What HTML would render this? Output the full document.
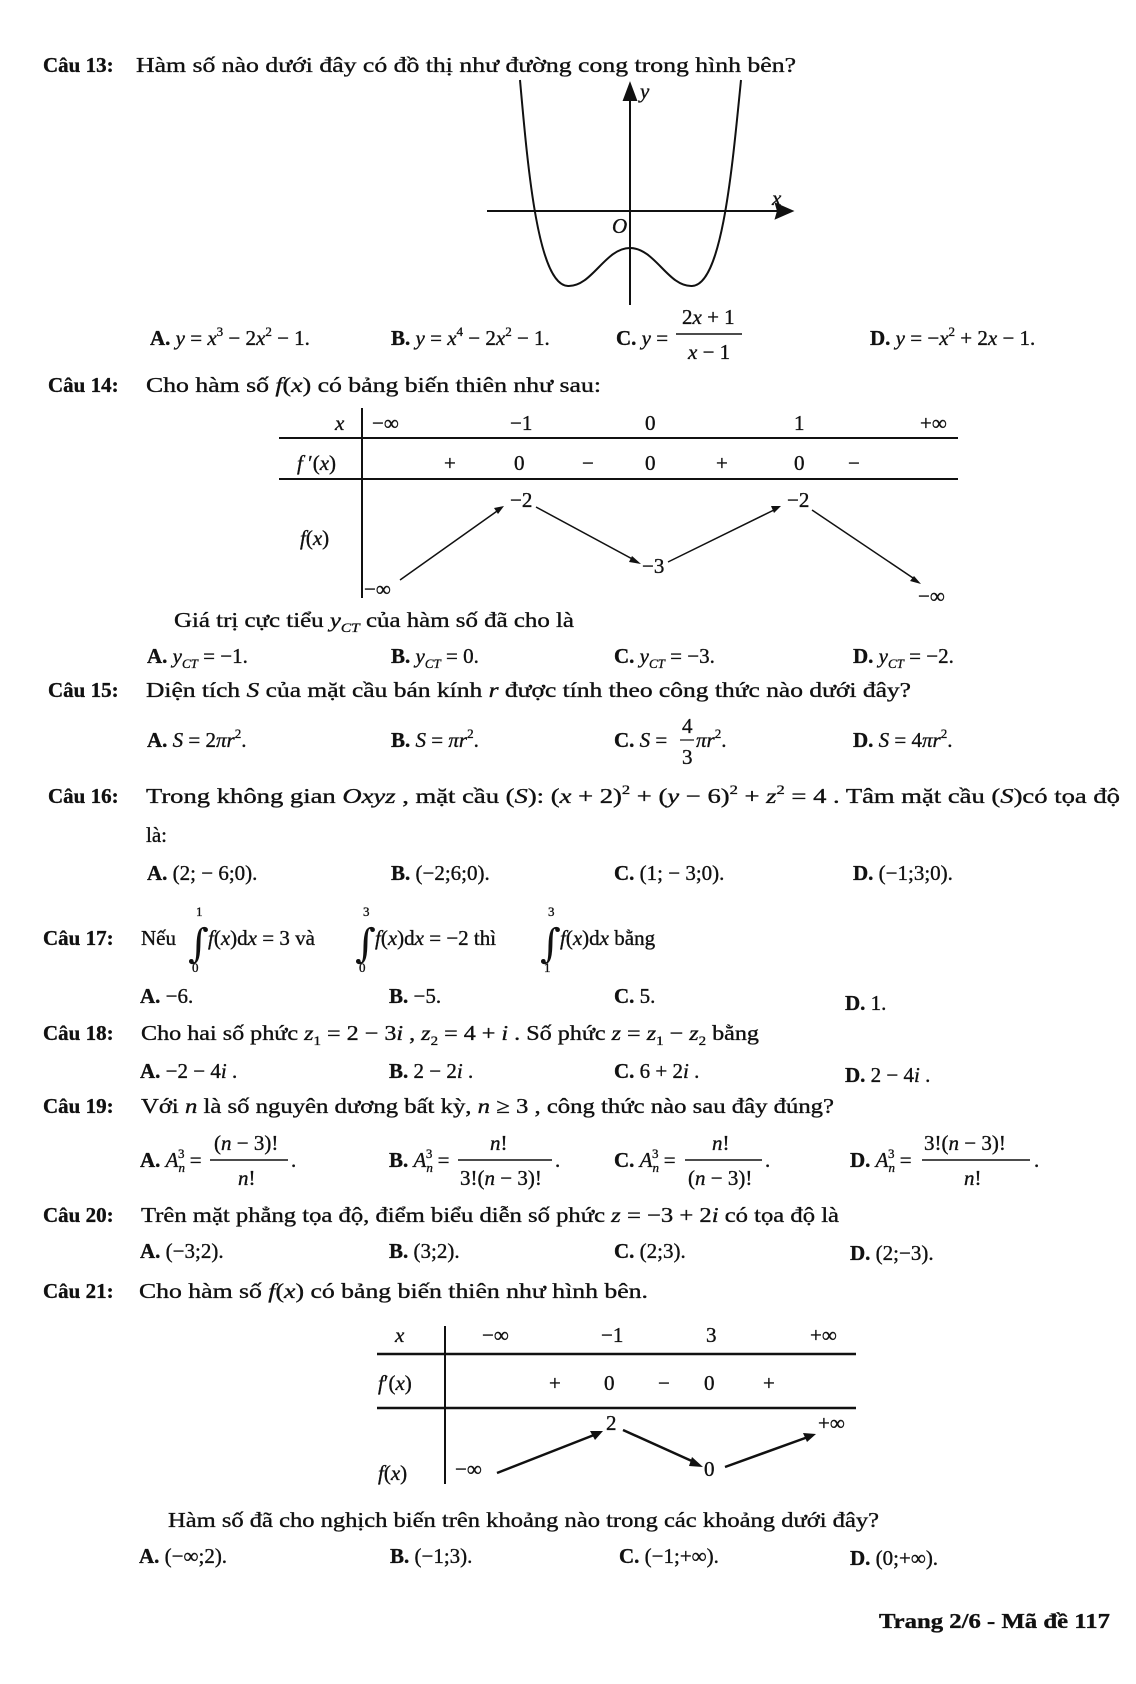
<!DOCTYPE html>
<html><head><meta charset="utf-8"><style>
html,body{margin:0;padding:0;background:#fff}
svg{display:block}
text{font-family:"Liberation Serif",serif;font-size:21px;fill:#111;stroke:#111;stroke-width:0.35}
.b{font-weight:bold}
.i{font-style:italic}
.s{font-size:13px}
.int{font-family:"DejaVu Serif",serif;font-size:40px;stroke-width:0}
</style></head><body>
<svg width="1136" height="1684" viewBox="0 0 1136 1684" xmlns="http://www.w3.org/2000/svg">
<g stroke="#111" fill="none" stroke-width="2">
<line x1="487" y1="211" x2="782" y2="211"/>
<polygon points="792,211 776,204 778,211 776,218" fill="#111"/>
<line x1="630" y1="100" x2="630" y2="305"/>
<polygon points="630,84 624,100 636,100" fill="#111"/>
<path d="M520,80 C528,170 538,285 568,286 C592,287 605,248 630,248 C655,248 668,287 692,286 C722,285 732,170 741,80"/>
<line x1="362" y1="408" x2="362" y2="598"/>
<line x1="279" y1="438" x2="958" y2="438"/>
<line x1="279" y1="479" x2="958" y2="479"/>
<line x1="400" y1="580" x2="500" y2="509" stroke-width="1.5"/>
<line x1="536" y1="507" x2="636" y2="561" stroke-width="1.5"/>
<line x1="668" y1="562" x2="776" y2="509" stroke-width="1.5"/>
<line x1="812" y1="510" x2="916" y2="580" stroke-width="1.5"/>
<line x1="445" y1="1326" x2="445" y2="1484"/>
<line x1="377" y1="1354" x2="856" y2="1354" stroke-width="2.5"/>
<line x1="377" y1="1408" x2="856" y2="1408" stroke-width="2.5"/>
<line x1="497" y1="1473" x2="594" y2="1435" stroke-width="2.5"/>
<line x1="623" y1="1430" x2="694" y2="1462" stroke-width="2.5"/>
<line x1="725" y1="1467" x2="808" y2="1437" stroke-width="2.5"/>
</g>
<g fill="#111">
<polygon points="504,506 494,508 498,514"/>
<polygon points="641,564 632,556 629,562"/>
<polygon points="781,506 771,506 774,513"/>
<polygon points="921,584 914,576 910,581"/>
<polygon points="603,1431 590,1431 595,1440"/>
<polygon points="703,1467 692,1457 689,1466"/>
<polygon points="816,1434 803,1433 807,1442"/>
</g>

<text x="43" y="72"><tspan class="b">Câu 13:</tspan></text>
<text x="136" y="72" textLength="660" lengthAdjust="spacingAndGlyphs">Hàm số nào dưới đây có đồ thị như đường cong trong hình bên?</text>
<text x="640" y="98" class="i" font-size="16">y</text>
<text x="772" y="205" class="i" font-size="16">x</text>
<text x="612" y="233" class="i" font-size="18">O</text>
<text x="150" y="345"><tspan class="b">A.</tspan> <tspan class="i">y</tspan> = <tspan class="i">x</tspan><tspan class="s" dy="-9">3</tspan><tspan dy="9"> − 2</tspan><tspan class="i">x</tspan><tspan class="s" dy="-9">2</tspan><tspan dy="9"> − 1.</tspan></text>
<text x="391" y="345"><tspan class="b">B.</tspan> <tspan class="i">y</tspan> = <tspan class="i">x</tspan><tspan class="s" dy="-9">4</tspan><tspan dy="9"> − 2</tspan><tspan class="i">x</tspan><tspan class="s" dy="-9">2</tspan><tspan dy="9"> − 1.</tspan></text>
<text x="616" y="345"><tspan class="b">C.</tspan> <tspan class="i">y</tspan> =</text>
<text x="682" y="324">2<tspan class="i">x</tspan> + 1</text>
<line x1="676" y1="334" x2="742" y2="334" stroke="#111" stroke-width="1.5"/>
<text x="688" y="359"><tspan class="i">x</tspan> − 1</text>
<text x="870" y="345"><tspan class="b">D.</tspan> <tspan class="i">y</tspan> = −<tspan class="i">x</tspan><tspan class="s" dy="-9">2</tspan><tspan dy="9"> + 2</tspan><tspan class="i">x</tspan> − 1.</text>

<text x="48" y="392" class="b">Câu 14:</text>
<text x="146" y="392" textLength="455" lengthAdjust="spacingAndGlyphs">Cho hàm số <tspan class="i">f</tspan>(<tspan class="i">x</tspan>) có bảng biến thiên như sau:</text>
<text x="335" y="430" class="i">x</text>
<text x="372" y="430">−∞</text>
<text x="510" y="430">−1</text>
<text x="645" y="430">0</text>
<text x="794" y="430">1</text>
<text x="920" y="430">+∞</text>
<text x="297" y="470"><tspan class="i">f</tspan> ′(<tspan class="i">x</tspan>)</text>
<text x="444" y="470">+</text>
<text x="514" y="470">0</text>
<text x="582" y="470">−</text>
<text x="645" y="470">0</text>
<text x="716" y="470">+</text>
<text x="794" y="470">0</text>
<text x="848" y="470">−</text>
<text x="300" y="545"><tspan class="i">f</tspan>(<tspan class="i">x</tspan>)</text>
<text x="510" y="507">−2</text>
<text x="787" y="507">−2</text>
<text x="642" y="573">−3</text>
<text x="364" y="596">−∞</text>
<text x="918" y="603">−∞</text>
<text x="174" y="627" textLength="400" lengthAdjust="spacingAndGlyphs">Giá trị cực tiểu <tspan class="i">y</tspan><tspan class="s i" dy="5">CT</tspan><tspan dy="-5"> của hàm số đã cho là</tspan></text>
<text x="147" y="663"><tspan class="b">A.</tspan> <tspan class="i">y</tspan><tspan class="s i" dy="5">CT</tspan><tspan dy="-5"> = −1.</tspan></text>
<text x="391" y="663"><tspan class="b">B.</tspan> <tspan class="i">y</tspan><tspan class="s i" dy="5">CT</tspan><tspan dy="-5"> = 0.</tspan></text>
<text x="614" y="663"><tspan class="b">C.</tspan> <tspan class="i">y</tspan><tspan class="s i" dy="5">CT</tspan><tspan dy="-5"> = −3.</tspan></text>
<text x="853" y="663"><tspan class="b">D.</tspan> <tspan class="i">y</tspan><tspan class="s i" dy="5">CT</tspan><tspan dy="-5"> = −2.</tspan></text>

<text x="48" y="697" class="b">Câu 15:</text>
<text x="146" y="697" textLength="765" lengthAdjust="spacingAndGlyphs">Diện tích <tspan class="i">S</tspan> của mặt cầu bán kính <tspan class="i">r</tspan> được tính theo công thức nào dưới đây?</text>
<text x="147" y="747"><tspan class="b">A.</tspan> <tspan class="i">S</tspan> = 2<tspan class="i">πr</tspan><tspan class="s" dy="-9">2</tspan><tspan dy="9">.</tspan></text>
<text x="391" y="747"><tspan class="b">B.</tspan> <tspan class="i">S</tspan> = <tspan class="i">πr</tspan><tspan class="s" dy="-9">2</tspan><tspan dy="9">.</tspan></text>
<text x="614" y="747"><tspan class="b">C.</tspan> <tspan class="i">S</tspan> =</text>
<text x="682" y="733" font-size="18">4</text>
<line x1="680" y1="740" x2="694" y2="740" stroke="#111" stroke-width="1.2"/>
<text x="682" y="764" font-size="18">3</text>
<text x="696" y="747"><tspan class="i">πr</tspan><tspan class="s" dy="-9">2</tspan><tspan dy="9">.</tspan></text>
<text x="853" y="747"><tspan class="b">D.</tspan> <tspan class="i">S</tspan> = 4<tspan class="i">πr</tspan><tspan class="s" dy="-9">2</tspan><tspan dy="9">.</tspan></text>

<text x="48" y="803" class="b">Câu 16:</text>
<text x="146" y="803" textLength="974" lengthAdjust="spacingAndGlyphs">Trong không gian <tspan class="i">Oxyz</tspan> , mặt cầu (<tspan class="i">S</tspan>): (<tspan class="i">x</tspan> + 2)<tspan class="s" dy="-9">2</tspan><tspan dy="9"> + (</tspan><tspan class="i">y</tspan> − 6)<tspan class="s" dy="-9">2</tspan><tspan dy="9"> + </tspan><tspan class="i">z</tspan><tspan class="s" dy="-9">2</tspan><tspan dy="9"> = 4 . Tâm mặt cầu (</tspan><tspan class="i">S</tspan>)có tọa độ</text>
<text x="146" y="842">là:</text>
<text x="147" y="880"><tspan class="b">A.</tspan> (2; − 6;0).</text>
<text x="391" y="880"><tspan class="b">B.</tspan> (−2;6;0).</text>
<text x="614" y="880"><tspan class="b">C.</tspan> (1; − 3;0).</text>
<text x="853" y="880"><tspan class="b">D.</tspan> (−1;3;0).</text>

<text x="43" y="945" class="b">Câu 17:</text>
<text x="141" y="945">Nếu</text>
<text x="188" y="957" class="int">∫</text>
<text x="196" y="916" class="s">1</text><text x="192" y="972" class="s">0</text>
<text x="208" y="945"><tspan class="i">f</tspan>(<tspan class="i">x</tspan>)d<tspan class="i">x</tspan> = 3  và</text>
<text x="355" y="957" class="int">∫</text>
<text x="363" y="916" class="s">3</text><text x="359" y="972" class="s">0</text>
<text x="375" y="945"><tspan class="i">f</tspan>(<tspan class="i">x</tspan>)d<tspan class="i">x</tspan> = −2  thì</text>
<text x="540" y="957" class="int">∫</text>
<text x="548" y="916" class="s">3</text><text x="544" y="972" class="s">1</text>
<text x="560" y="945"><tspan class="i">f</tspan>(<tspan class="i">x</tspan>)d<tspan class="i">x</tspan>  bằng</text>
<text x="140" y="1003"><tspan class="b">A.</tspan> −6.</text>
<text x="389" y="1003"><tspan class="b">B.</tspan> −5.</text>
<text x="614" y="1003"><tspan class="b">C.</tspan> 5.</text>
<text x="845" y="1010"><tspan class="b">D.</tspan> 1.</text>

<text x="43" y="1040" class="b">Câu 18:</text>
<text x="141" y="1040" textLength="618" lengthAdjust="spacingAndGlyphs">Cho hai số phức <tspan class="i">z</tspan><tspan class="s" dy="5">1</tspan><tspan dy="-5"> = 2 − 3</tspan><tspan class="i">i</tspan> , <tspan class="i">z</tspan><tspan class="s" dy="5">2</tspan><tspan dy="-5"> = 4 + </tspan><tspan class="i">i</tspan> . Số phức  <tspan class="i">z</tspan> = <tspan class="i">z</tspan><tspan class="s" dy="5">1</tspan><tspan dy="-5"> − </tspan><tspan class="i">z</tspan><tspan class="s" dy="5">2</tspan><tspan dy="-5"> bằng</tspan></text>
<text x="140" y="1078"><tspan class="b">A.</tspan> −2 − 4<tspan class="i">i</tspan> .</text>
<text x="389" y="1078"><tspan class="b">B.</tspan> 2 − 2<tspan class="i">i</tspan> .</text>
<text x="614" y="1078"><tspan class="b">C.</tspan> 6 + 2<tspan class="i">i</tspan> .</text>
<text x="845" y="1082"><tspan class="b">D.</tspan> 2 − 4<tspan class="i">i</tspan> .</text>

<text x="43" y="1113" class="b">Câu 19:</text>
<text x="141" y="1113" textLength="693" lengthAdjust="spacingAndGlyphs">Với <tspan class="i">n</tspan>  là số nguyên dương bất kỳ, <tspan class="i">n</tspan> ≥ 3 , công thức nào sau đây đúng?</text>
<text x="140" y="1167"><tspan class="b">A.</tspan> <tspan class="i">A</tspan><tspan class="s i" dy="5">n</tspan><tspan class="s" dx="-7" dy="-14">3</tspan><tspan dy="9"> =</tspan></text>
<text x="214" y="1150">(<tspan class="i">n</tspan> − 3)!</text>
<line x1="210" y1="1160" x2="288" y2="1160" stroke="#111" stroke-width="1.5"/>
<text x="238" y="1185"><tspan class="i">n</tspan>!</text>
<text x="291" y="1167">.</text>

<text x="389" y="1167"><tspan class="b">B.</tspan> <tspan class="i">A</tspan><tspan class="s i" dy="5">n</tspan><tspan class="s" dx="-7" dy="-14">3</tspan><tspan dy="9"> =</tspan></text>
<text x="490" y="1150"><tspan class="i">n</tspan>!</text>
<line x1="458" y1="1160" x2="552" y2="1160" stroke="#111" stroke-width="1.5"/>
<text x="460" y="1185">3!(<tspan class="i">n</tspan> − 3)!</text>
<text x="555" y="1167">.</text>

<text x="614" y="1167"><tspan class="b">C.</tspan> <tspan class="i">A</tspan><tspan class="s i" dy="5">n</tspan><tspan class="s" dx="-7" dy="-14">3</tspan><tspan dy="9"> =</tspan></text>
<text x="712" y="1150"><tspan class="i">n</tspan>!</text>
<line x1="685" y1="1160" x2="762" y2="1160" stroke="#111" stroke-width="1.5"/>
<text x="688" y="1185">(<tspan class="i">n</tspan> − 3)!</text>
<text x="765" y="1167">.</text>

<text x="850" y="1167"><tspan class="b">D.</tspan> <tspan class="i">A</tspan><tspan class="s i" dy="5">n</tspan><tspan class="s" dx="-7" dy="-14">3</tspan><tspan dy="9"> =</tspan></text>
<text x="924" y="1150">3!(<tspan class="i">n</tspan> − 3)!</text>
<line x1="922" y1="1160" x2="1030" y2="1160" stroke="#111" stroke-width="1.5"/>
<text x="964" y="1185"><tspan class="i">n</tspan>!</text>
<text x="1034" y="1167">.</text>

<text x="43" y="1222" class="b">Câu 20:</text>
<text x="141" y="1222" textLength="698" lengthAdjust="spacingAndGlyphs">Trên mặt phẳng tọa độ, điểm biểu diễn số phức  <tspan class="i">z</tspan> = −3 + 2<tspan class="i">i</tspan>  có tọa độ là</text>
<text x="140" y="1258"><tspan class="b">A.</tspan> (−3;2).</text>
<text x="389" y="1258"><tspan class="b">B.</tspan> (3;2).</text>
<text x="614" y="1258"><tspan class="b">C.</tspan> (2;3).</text>
<text x="850" y="1260"><tspan class="b">D.</tspan> (2;−3).</text>

<text x="43" y="1298" class="b">Câu 21:</text>
<text x="139" y="1298" textLength="509" lengthAdjust="spacingAndGlyphs">Cho hàm số  <tspan class="i">f</tspan>(<tspan class="i">x</tspan>) có bảng biến thiên như hình bên.</text>
<text x="395" y="1342" class="i">x</text>
<text x="482" y="1342">−∞</text>
<text x="601" y="1342">−1</text>
<text x="706" y="1342">3</text>
<text x="810" y="1342">+∞</text>
<text x="378" y="1390"><tspan class="i">f</tspan>′(<tspan class="i">x</tspan>)</text>
<text x="549" y="1390">+</text>
<text x="604" y="1390">0</text>
<text x="658" y="1390">−</text>
<text x="704" y="1390">0</text>
<text x="763" y="1390">+</text>
<text x="378" y="1480"><tspan class="i">f</tspan>(<tspan class="i">x</tspan>)</text>
<text x="606" y="1430">2</text>
<text x="818" y="1430">+∞</text>
<text x="455" y="1476">−∞</text>
<text x="704" y="1476">0</text>
<text x="168" y="1527" textLength="711" lengthAdjust="spacingAndGlyphs">Hàm số đã cho nghịch biến trên khoảng nào trong các khoảng dưới đây?</text>
<text x="139" y="1563"><tspan class="b">A.</tspan> (−∞;2).</text>
<text x="390" y="1563"><tspan class="b">B.</tspan> (−1;3).</text>
<text x="619" y="1563"><tspan class="b">C.</tspan> (−1;+∞).</text>
<text x="850" y="1565"><tspan class="b">D.</tspan> (0;+∞).</text>

<text x="879" y="1628" class="b" textLength="231" lengthAdjust="spacingAndGlyphs">Trang 2/6 - Mã đề 117</text>
</svg>
</body></html>
